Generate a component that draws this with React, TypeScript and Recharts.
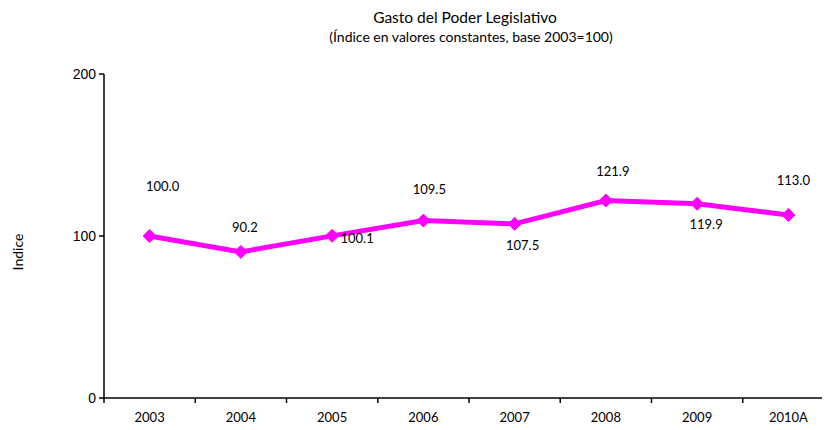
import React from "react";
import { LineChart, Line, XAxis, YAxis, LabelList } from "recharts";

const YEARS = ["2003", "2004", "2005", "2006", "2007", "2008", "2009", "2010A"];
const INDEX_VALUES = [100.0, 90.2, 100.1, 109.5, 107.5, 121.9, 119.9, 113.0];
const Y_TICKS = [0, 100, 200];

// manual label placement (offset of label centre from the point), like the Excel original
const LABEL_DX = [13, 4, 25, 6, 8, 7, 9, 5];
const LABEL_DY = [-48, -23, 4, -30, 23, -28, 22, -33];

const MAGENTA = "#ff00ff";
const CALIBRI_LIKE = "Lato, 'Open Sans', sans-serif";

const data = YEARS.map((year, i) => ({ year, value: INDEX_VALUES[i] }));

function Diamond(props: any) {
  const { cx, cy } = props;
  if (cx == null || cy == null) return null;
  const r = 6.5;
  return (
    <polygon
      points={`${cx},${cy - r} ${cx + r},${cy} ${cx},${cy + r} ${cx - r},${cy}`}
      fill={MAGENTA}
      stroke={MAGENTA}
    />
  );
}

function YearTick(props: any) {
  const { x, y, payload } = props;
  const half = payload && payload.offset ? payload.offset : 45.6;
  return (
    <g>
      <line x1={x - half} x2={x - half} y1={y} y2={y + 5} stroke="#000" strokeWidth={1.5} />
      <text
        x={x}
        y={y + 21}
        textAnchor="middle"
        dominantBaseline="middle"
        fontFamily={CALIBRI_LIKE}
        fontSize={13}
        fill="#000"
      >
        {payload.value}
      </text>
    </g>
  );
}

function ValueLabel(props: any) {
  const { x, y, value, index } = props;
  return (
    <text
      x={x + LABEL_DX[index]}
      y={y + LABEL_DY[index]}
      textAnchor="middle"
      dominantBaseline="middle"
      fontFamily={CALIBRI_LIKE}
      fontSize={13}
      fill="#000"
    >
      {Number(value).toFixed(1)}
    </text>
  );
}

export default function App() {
  return (
    <div style={{ position: "relative", width: 822, height: 422, overflow: "hidden", background: "#fff" }}>
      <div
        style={{
          position: "absolute",
          left: 457,
          top: 0,
          transform: "translateX(-50%)",
          fontFamily: CALIBRI_LIKE,
          fontSize: 15.5,
          lineHeight: "18px",
          whiteSpace: "nowrap",
          color: "#000",
        }}
      >
        Gasto del Poder Legislativo
      </div>
      <div
        style={{
          position: "absolute",
          left: 463,
          top: 21,
          transform: "translateX(-50%)",
          fontFamily: CALIBRI_LIKE,
          fontSize: 14,
          lineHeight: "16px",
          whiteSpace: "nowrap",
          color: "#000",
        }}
      >
        (Índice en valores constantes, base 2003=100)
      </div>
      <LineChart width={840} height={422} data={data} margin={{ top: 66, right: 14, bottom: 2, left: 0 }}>
        <XAxis
          dataKey="year"
          scale="band"
          height={30}
          tickLine={false}
          tickSize={0}
          tickMargin={0}
          interval={0}
          axisLine={{ stroke: "#000", strokeWidth: 1.5 }}
          tick={<YearTick />}
        />
        <YAxis
          width={96}
          domain={[0, 200]}
          ticks={Y_TICKS}
          interval={0}
          tickSize={5}
          tickMargin={3}
          axisLine={{ stroke: "#000", strokeWidth: 1.5 }}
          tickLine={{ stroke: "#000", strokeWidth: 1.5 }}
          tick={{ fill: "#000", fontSize: 14, fontFamily: "'Liberation Sans', Arial, sans-serif" }}
          label={{
            value: "Indice",
            angle: -90,
            position: "insideLeft",
            offset: 10,
            dy: 16,
            style: { fontFamily: CALIBRI_LIKE, fontSize: 14, fill: "#000", textAnchor: "middle" },
          }}
        />
        <Line
          type="linear"
          dataKey="value"
          stroke={MAGENTA}
          strokeWidth={5}
          dot={<Diamond />}
          activeDot={false}
          isAnimationActive={false}
        >
          <LabelList dataKey="value" content={<ValueLabel />} />
        </Line>
      </LineChart>
    </div>
  );
}
